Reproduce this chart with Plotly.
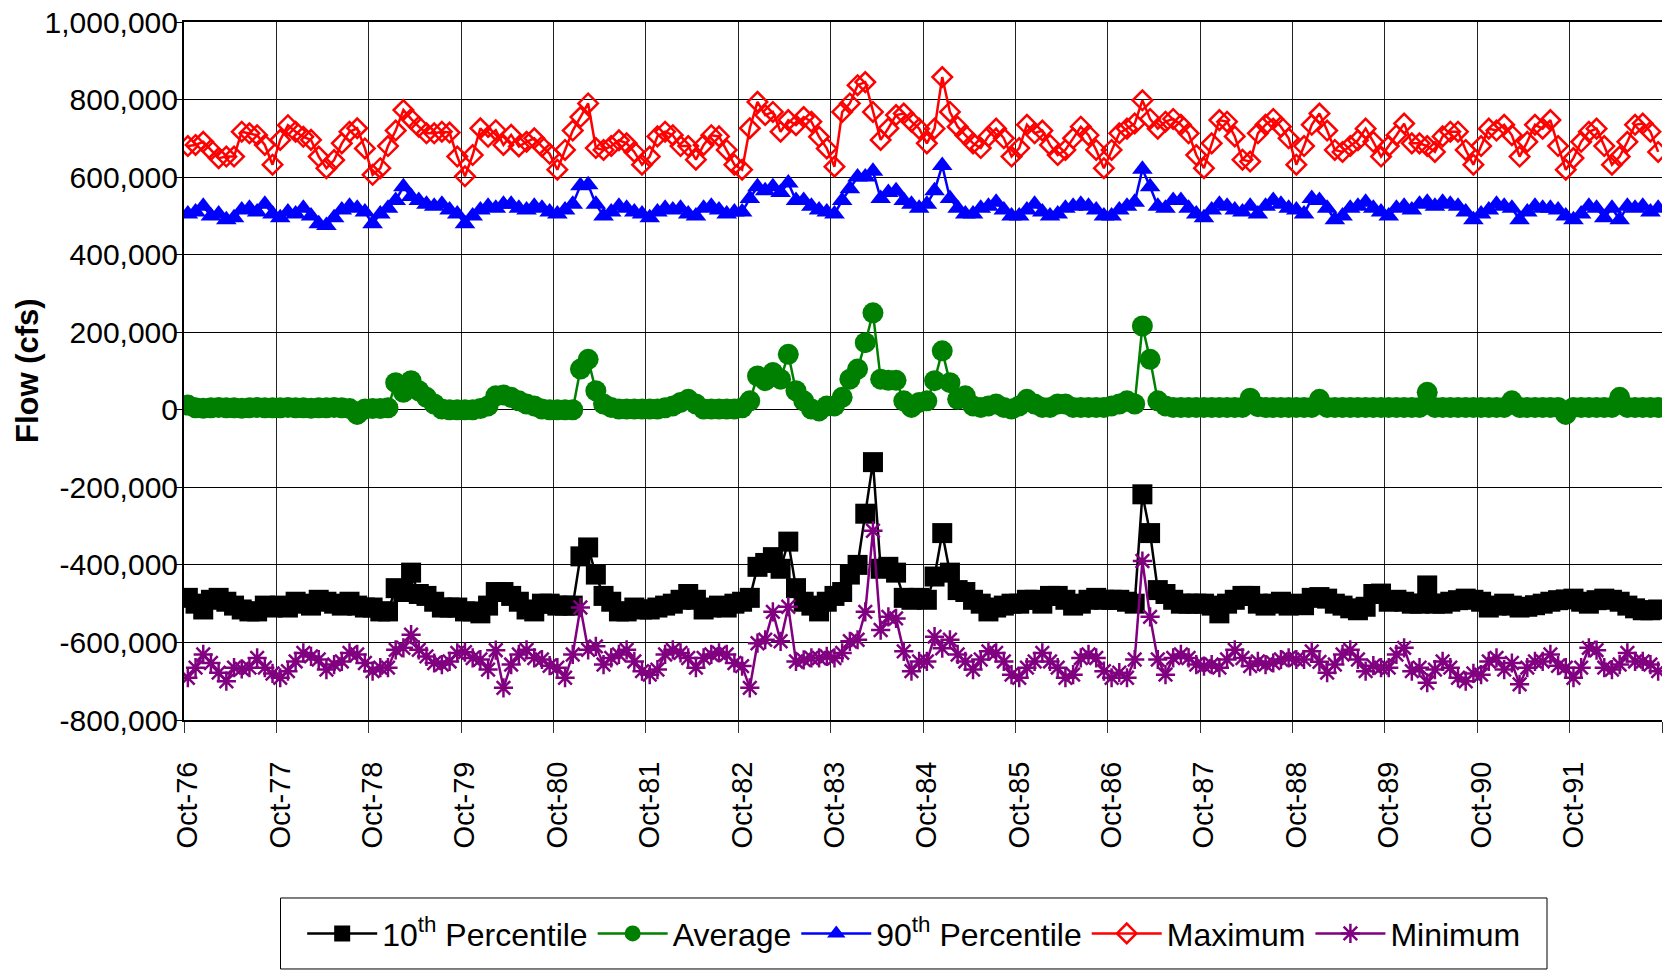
import plotly.graph_objects as go

# ---- categories: monthly, Oct-76 .. Sep-92 ----
month_names = ["Oct", "Nov", "Dec", "Jan", "Feb", "Mar", "Apr", "May", "Jun", "Jul", "Aug", "Sep"]
months = []
for wy in range(77, 93):
    for k, m in enumerate(month_names):
        yr = wy - 1 if k < 3 else wy
        months.append(f"{m}-{yr:02d}")

# ---- series values (thousand cfs) ----
p10_k = [
    -485, -500, -515, -490, -485, -495, -505, -515, -520, -520, -505, -510,
    -505, -510, -495, -500, -505, -490, -495, -500, -505, -495, -505, -510,
    -510, -520, -520, -460, -470, -420, -475, -480, -495, -510, -510, -510,
    -520, -520, -525, -505, -470, -470, -480, -495, -515, -520, -500, -500,
    -505, -505, -505, -378, -355, -425, -480, -495, -520, -520, -510, -515,
    -515, -510, -505, -500, -490, -475, -490, -515, -510, -505, -510, -500,
    -495, -485, -405, -395, -380, -410, -340, -460, -495, -505, -520, -495,
    -480, -470, -425, -400, -268, -135, -410, -405, -420, -485, -490, -485,
    -490, -430, -318, -420, -465, -470, -490, -500, -520, -510, -505, -500,
    -500, -490, -490, -500, -480, -480, -490, -505, -500, -490, -485, -490,
    -490, -490, -495, -500, -218, -318, -465, -475, -490, -500, -500, -500,
    -500, -505, -525, -500, -490, -480, -480, -500, -505, -500, -495, -505,
    -500, -504, -485, -483, -487, -500, -505, -512, -517, -508, -475, -474,
    -495, -490, -495, -500, -500, -453, -500, -500, -495, -491, -487, -490,
    -495, -510, -505, -500, -505, -510, -508, -504, -500, -495, -491, -489,
    -487, -495, -500, -491, -487, -490, -495, -505, -512, -517, -517, -515,
]
avg_k = [
    12, 5, 4, 5, 6, 5, 5, 4, 5, 6, 5, 5,
    5, 6, 5, 5, 4, 5, 5, 6, 5, 3, -12, 2,
    3, 3, 5, 70, 45, 75, 49, 32, 15, 2, 0, 0,
    0, 0, 3, 10, 36, 38, 32, 23, 15, 10, 2, 0,
    0, 0, 0, 105, 130, 49, 15, 6, 2, 2, 2, 2,
    2, 2, 5, 10, 19, 27, 15, 2, 2, 2, 2, 2,
    5, 23, 87, 75, 96, 79, 143, 49, 23, 2, -3, 10,
    10, 32, 79, 105, 173, 250, 79, 76, 76, 23, 6, 19,
    23, 75, 152, 70, 27, 36, 10, 6, 10, 15, 6, 2,
    10, 27, 15, 6, 6, 15, 15, 6, 6, 6, 6, 6,
    10, 15, 23, 15, 216, 130, 23, 10, 6, 6, 6, 6,
    6, 6, 6, 6, 6, 6, 30, 8, 6, 6, 6, 6,
    6, 6, 6, 27, 6, 6, 6, 6, 6, 6, 6, 6,
    6, 6, 6, 6, 6, 45, 6, 6, 6, 6, 6, 6,
    6, 6, 6, 6, 23, 6, 6, 6, 6, 6, 6, -12,
    6, 6, 6, 6, 6, 6, 32, 6, 6, 6, 6, 6,
]
p90_k = [
    505, 510, 525, 500, 505, 490, 495, 515, 520, 510, 530, 505,
    495, 510, 505, 520, 500, 480, 475, 495, 515, 525, 520, 510,
    480, 505, 520, 540, 575, 550, 540, 530, 525, 530, 515, 505,
    480, 500, 515, 525, 520, 530, 530, 520, 515, 525, 520, 510,
    505, 515, 530, 578, 580, 530, 500, 510, 525, 520, 510, 505,
    495, 510, 520, 515, 520, 505, 500, 520, 525, 515, 505, 510,
    510, 545, 575, 565, 575, 560, 585, 540, 540, 525, 515, 510,
    505, 540, 570, 600, 600, 615, 545, 560, 565, 540, 530, 520,
    530, 565, 630, 545, 520, 505, 505, 520, 525, 535, 515, 500,
    500, 515, 530, 510, 500, 505, 520, 525, 530, 525, 515, 500,
    500, 515, 525, 535, 620, 575, 525, 520, 540, 540, 520, 505,
    495, 515, 530, 525, 515, 510, 525, 505, 525, 540, 530, 520,
    515, 505, 545, 540, 520, 490, 500, 520, 525, 535, 520, 510,
    500, 520, 525, 515, 530, 535, 525, 535, 530, 525, 510, 490,
    505, 515, 530, 525, 520, 490, 510, 525, 520, 520, 515, 500,
    490, 505, 525, 520, 495, 520, 490, 525, 520, 525, 510, 520,
]
max_k = [
    680, 683, 691, 670, 649, 653, 653, 717, 713, 708, 683, 632,
    696, 734, 717, 704, 696, 653, 623, 644, 687, 717, 726, 674,
    606, 623, 680, 720, 773, 750, 730, 713, 713, 717, 715, 653,
    602, 657, 726, 704, 721, 683, 709, 679, 691, 700, 679, 660,
    619, 670, 720, 755, 790, 675, 670, 680, 695, 687, 665, 632,
    653, 705, 717, 708, 680, 680, 645, 683, 708, 705, 670, 632,
    619, 726, 794, 760, 768, 717, 747, 734, 755, 743, 704, 674,
    627, 768, 790, 837, 845, 768, 696, 726, 760, 764, 743, 725,
    687, 725, 858, 768, 730, 708, 687, 675, 705, 725, 700, 653,
    675, 735, 713, 720, 683, 657, 670, 700, 730, 708, 670, 623,
    670, 713, 725, 738, 798, 750, 725, 743, 750, 735, 713, 657,
    623, 687, 747, 743, 705, 645, 640, 713, 735, 750, 730, 700,
    632, 680, 735, 764, 720, 670, 665, 680, 695, 725, 691, 653,
    680, 708, 738, 687, 687, 680, 665, 705, 717, 717, 670, 632,
    680, 725, 720, 735, 708, 653, 691, 735, 725, 747, 680, 619,
    649, 691, 717, 725, 680, 632, 653, 691, 735, 738, 717, 665,
]
min_k = [
    -691, -665, -631, -653, -678, -700, -665, -668, -665, -640, -665, -680,
    -691, -674, -649, -627, -636, -644, -670, -657, -649, -627, -631, -653,
    -674, -665, -665, -619, -614, -580, -619, -636, -653, -657, -649, -627,
    -625, -640, -644, -670, -620, -717, -657, -631, -619, -640, -644, -660,
    -665, -691, -631, -510, -619, -610, -657, -640, -631, -619, -649, -674,
    -683, -670, -631, -619, -627, -640, -665, -640, -631, -627, -631, -653,
    -661, -717, -602, -593, -521, -597, -508, -649, -645, -640, -640, -636,
    -640, -627, -597, -593, -521, -312, -568, -534, -538, -623, -674, -649,
    -649, -585, -615, -593, -631, -649, -670, -644, -623, -627, -649, -683,
    -691, -665, -649, -627, -649, -665, -691, -683, -640, -631, -640, -674,
    -691, -678, -691, -644, -390, -534, -644, -683, -640, -631, -640, -657,
    -661, -657, -665, -644, -619, -640, -661, -649, -657, -653, -644, -640,
    -644, -644, -623, -650, -678, -657, -631, -619, -644, -674, -660, -665,
    -665, -631, -614, -674, -665, -704, -670, -649, -665, -691, -700, -680,
    -683, -649, -640, -670, -653, -708, -665, -649, -649, -631, -660, -665,
    -691, -665, -614, -620, -665, -670, -657, -627, -649, -649, -657, -674,
]

y_tick_vals = [-800, -600, -400, -200, 0, 200, 400, 600, 800, 1000]
y_tick_text = ["-800,000", "-600,000", "-400,000", "-200,000", "0",
               "200,000", "400,000", "600,000", "800,000", "1,000,000"]

x_idx = list(range(len(months)))
x_tick_vals = [i for i, m in enumerate(months) if m.startswith("Oct")]
x_tick_text = [months[i] for i in x_tick_vals]

FONT = "Liberation Sans, Arial, sans-serif"

fig = go.Figure()


def add(name, values, color, symbol, size, open_marker=False):
    marker = dict(symbol=symbol, size=size, color=color)
    marker["line"] = dict(color=color, width=2.5 if open_marker else 0)
    fig.add_trace(go.Scatter(
        x=x_idx, y=values, name=name, mode="lines+markers",
        line=dict(color=color, width=2.5), marker=marker,
        customdata=months, hovertemplate="%{customdata}: %{y}k<extra></extra>",
    ))


add("10<sup>th</sup> Percentile", p10_k, "#000000", "square", 20)
add("Average", avg_k, "#008000", "circle", 21)
add("90<sup>th</sup> Percentile", p90_k, "#0000FF", "triangle-up", 18)
add("Maximum", max_k, "#FF0000", "diamond-open", 15, open_marker=True)
add("Minimum", min_k, "#800080", "asterisk-open", 16, open_marker=True)

fig.update_layout(
    width=1663, height=971, autosize=False,
    margin=dict(l=184, r=1, t=22, b=251, autoexpand=False),
    paper_bgcolor="white", plot_bgcolor="white",
    font=dict(family=FONT, size=29, color="black"),
    showlegend=True,
    legend=dict(
        orientation="h", x=0.4937, xanchor="center", y=-0.306, yanchor="middle",
        borderwidth=0, bgcolor="rgba(0,0,0,0)",
        font=dict(family=FONT, size=32, color="black"),
        itemwidth=70,
    ),
    shapes=[dict(type="rect", xref="paper", yref="paper",
                 x0=0.0653, x1=0.9222, y0=-0.3567, y1=-0.255,
                 line=dict(color="black", width=1), fillcolor="rgba(0,0,0,0)")],
    annotations=[dict(text="<b>Flow (cfs)</b>", xref="paper", yref="paper",
                      x=-0.1062, y=0.5, xanchor="center", yanchor="middle",
                      textangle=-90, showarrow=False,
                      font=dict(family=FONT, size=31, color="black"))],
    xaxis=dict(
        range=[-0.5, len(months) - 0.5], automargin=False,
        tickmode="array", tickvals=x_tick_vals, ticktext=x_tick_text,
        tickangle=-90, ticks="", showgrid=False, zeroline=False,
        ticklabelstandoff=28,
        showline=True, linecolor="black", linewidth=2, mirror=True,
        tickfont=dict(family=FONT, size=29, color="black"),
        minor=dict(tick0=-0.5, dtick=12, showgrid=True, gridcolor="#222222",
                   gridwidth=1, ticks="outside", ticklen=11, tickcolor="#333333"),
    ),
    yaxis=dict(
        range=[-800, 1000], automargin=False,
        tickmode="array", tickvals=y_tick_vals, ticktext=y_tick_text,
        showgrid=True, gridcolor="black", gridwidth=1, zeroline=False,
        showline=True, linecolor="black", linewidth=2,
        ticks="outside", ticklen=6, tickcolor="black",
        ticklabelstandoff=-8,
        tickfont=dict(family=FONT, size=30, color="black"),
    ),
)

fig.write_html(
    "out.html",
    config={"displayModeBar": False},
    post_script="document.body.style.margin='0px';document.body.style.overflow='hidden';",
)
